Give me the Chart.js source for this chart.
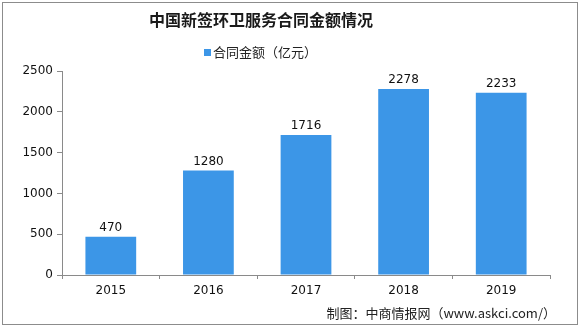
<!DOCTYPE html>
<html>
<head>
<meta charset="utf-8">
<script src="https://cdn.jsdelivr.net/npm/chart.js@4/dist/chart.umd.min.js"></script>
<style>
html,body{margin:0;padding:0;background:#fff;}
#wrap{width:580px;height:328px;}
</style>
</head>
<body>
<div id="wrap"><canvas id="c" width="580" height="328"></canvas></div>
<script>
const categories = ['2015', '2016', '2017', '2018', '2019'];
const contractValues = [470, 1280, 1716, 2278, 2233];
const yTicks = [0, 500, 1000, 1500, 2000, 2500];
const seriesName = '合同金额（亿元）';
const chartTitle = '中国新签环卫服务合同金额情况';
const footerText = '制图：中商情报网（www.askci.com/）';

const BAR_COLOR = '#3c96e7';
const TICK_FONT = '12px "DejaVu Sans", sans-serif';
const CJK = '"Noto Sans CJK SC", sans-serif';

const decorPlugin = {
  id: 'decor',
  beforeDraw(chart) {
    const ctx = chart.ctx;
    ctx.save();
    ctx.fillStyle = '#fff';
    ctx.fillRect(0, 0, chart.width, chart.height);
    ctx.restore();
  },
  afterDraw(chart) {
    const ctx = chart.ctx;
    ctx.save();
    // frame
    ctx.strokeStyle = '#8c8c8c';
    ctx.lineWidth = 1;
    ctx.strokeRect(2.5, 2.5, 575, 322);
    // title
    ctx.fillStyle = '#1a1a1a';
    ctx.font = 'bold 16px ' + CJK;
    ctx.textAlign = 'center';
    ctx.textBaseline = 'middle';
    ctx.fillText(chartTitle, 261, 20);
    // legend
    ctx.fillStyle = BAR_COLOR;
    ctx.fillRect(204, 49, 7, 7);
    ctx.fillStyle = '#222';
    ctx.font = '13px ' + CJK;
    ctx.textAlign = 'left';
    ctx.fillText(seriesName, 213, 52);
    // data labels
    const meta = chart.getDatasetMeta(0);
    ctx.font = TICK_FONT;
    ctx.textAlign = 'center';
    ctx.textBaseline = 'bottom';
    ctx.fillStyle = '#111';
    meta.data.forEach((bar, i) => {
      ctx.fillText(String(contractValues[i]), bar.x, bar.y - 3);
    });
    // footer
    ctx.font = '13px ' + CJK;
    ctx.textAlign = 'right';
    ctx.textBaseline = 'middle';
    ctx.fillStyle = '#222';
    ctx.fillText(footerText, 556, 313);
    ctx.restore();
  }
};

new Chart(document.getElementById('c'), {
  type: 'bar',
  data: {
    labels: categories,
    datasets: [{
      label: seriesName,
      data: contractValues,
      backgroundColor: BAR_COLOR,
      borderWidth: 0,
      barPercentage: 0.52,
      categoryPercentage: 1.0
    }]
  },
  options: {
    responsive: false,
    animation: false,
    events: [],
    layout: { padding: { top: 71, left: 0, right: 30, bottom: 28 } },
    plugins: {
      legend: { display: false },
      title: { display: false },
      tooltip: { enabled: false }
    },
    scales: {
      x: {
        afterFit(scale) { scale.height = 25; },
        grid: {
          display: true,
          drawOnChartArea: false,
          drawTicks: true,
          tickLength: 4,
          color: '#8a8a8a',
          offset: true
        },
        border: { display: true, color: '#8a8a8a' },
        ticks: { color: '#111', font: { family: '"DejaVu Sans", sans-serif', size: 12 }, padding: 5 }
      },
      y: {
        min: 0,
        max: 2500,
        afterFit(scale) { scale.width = 62; },
        afterBuildTicks(scale) { scale.ticks = yTicks.map(v => ({ value: v })); },
        grid: {
          display: true,
          drawOnChartArea: false,
          drawTicks: true,
          tickLength: 5,
          color: '#8a8a8a'
        },
        border: { display: true, color: '#8a8a8a' },
        ticks: {
          color: '#111',
          font: { family: '"DejaVu Sans", sans-serif', size: 12 },
          padding: 4,
          callback: (v) => String(v)
        }
      }
    }
  },
  plugins: [decorPlugin]
});
</script>
</body>
</html>
